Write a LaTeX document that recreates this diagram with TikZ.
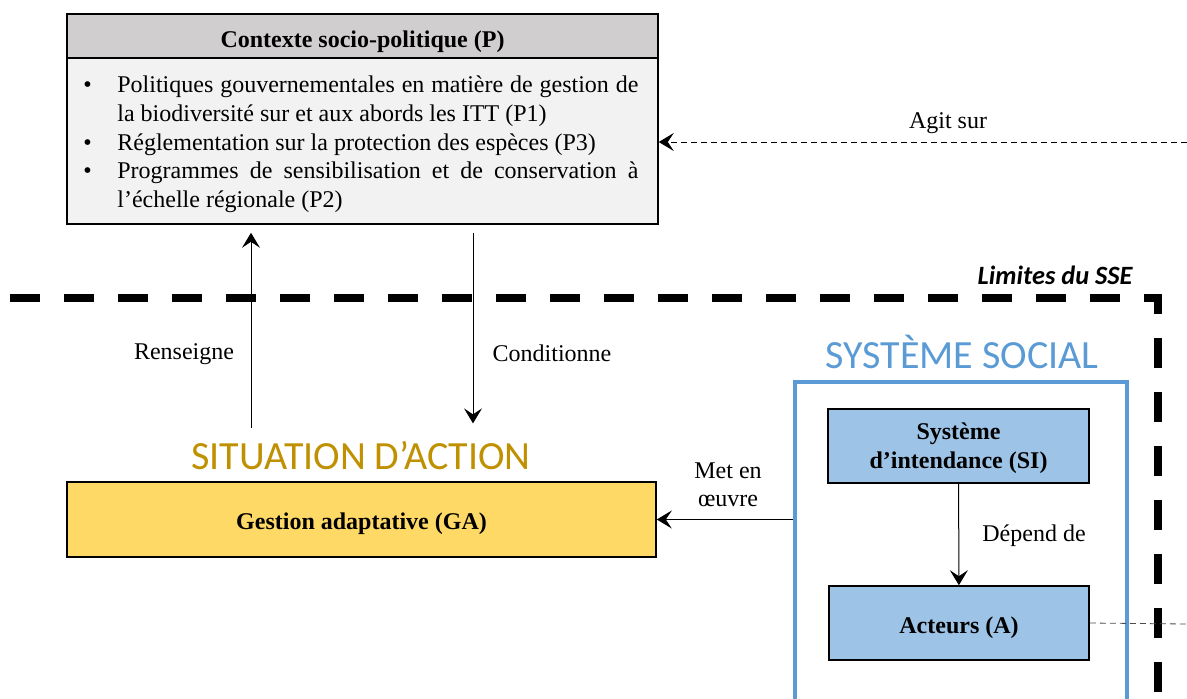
\documentclass[tikz,border=0pt]{standalone}
\usepackage{fontspec}
\setmainfont{Liberation Serif}
\newfontfamily\carlito{Carlito}
\usetikzlibrary{arrows.meta,calc,positioning}
\definecolor{hdrgray}{HTML}{D0CECE}
\definecolor{bodygray}{HTML}{F2F2F2}
\definecolor{gayellow}{HTML}{FFD966}
\definecolor{sagold}{HTML}{BF9000}
\definecolor{ssblue}{HTML}{5B9BD5}
\definecolor{sifill}{HTML}{9DC3E6}

\begin{document}
\begin{tikzpicture}[x=0.5pt,y=-0.5pt,
  box/.style={draw, line width=0.8pt, inner sep=0pt, align=center, text depth=0pt, font=\fontsize{12}{14.5}\selectfont\bfseries},
  oneline/.style={text height=10.4pt},
  link/.style={-{Stealth[length=7.5pt,width=9pt,inset=3pt]}, line width=0.5pt},
  faint/.style={link, densely dashed, line width=0.4pt},
  lbl/.style={font=\fontsize{12}{13.8}\selectfont, align=center, inner sep=0pt},
  ttl/.style={font=\carlito\fontsize{20}{24}\selectfont, inner sep=0pt}]
\useasboundingbox (0,0) rectangle (1187,698);

\node[box, oneline, text height=11pt, fill=hdrgray, minimum width=295.5pt, minimum height=22pt] (phead) at (362.5,36) {Contexte socio-politique (P)};
\node[box, fill=bodygray, minimum width=295.5pt, minimum height=83pt] (pbody) at (362.5,141) {};
\node[anchor=north west, inner sep=0pt, font=\fontsize{12}{14.4}\selectfont] (plist) at (83,72) {%
  \begin{tabular}{@{}p{17pt}@{}p{260.5pt}@{}}
  \textbullet & Politiques gouvernementales en matière de gestion de\linebreak la biodiversité sur et aux abords les ITT (P1)\\
  \textbullet & Réglementation sur la protection des espèces (P3)\\
  \textbullet & Programmes de sensibilisation et de conservation à\linebreak l’échelle régionale (P2)
  \end{tabular}};

\node[box, oneline, fill=gayellow, minimum width=294.5pt, minimum height=37.5pt] (ga) at (361.5,519.5) {Gestion adaptative (GA)};
\node[ttl, text=sagold] (satitle) at (361,456) {SITUATION D’ACTION};

\node[draw=ssblue, line width=2pt, minimum width=166pt, minimum height=170pt] (ssbox) at (961,552) {};
\node[ttl, text=ssblue] (sstitle) at (962,352) {SYSTÈME SOCIAL};
\node[box, fill=sifill, minimum width=130.5pt, minimum height=37pt] (si) at (958.5,446) {Système\\d’intendance (SI)};
\node[box, oneline, fill=sifill, minimum width=130pt, minimum height=37pt] (act) at (959,623) {Acteurs (A)};

\draw[line width=4pt, dash pattern=on 15pt off 12pt] (10,298) -- (1158,298) -- (1158,700);
\node[anchor=east, inner sep=0pt, font=\carlito\fontsize{13.2}{15}\selectfont\bfseries\itshape] (sse) at (1133,275) {Limites du SSE};

\coordinate (agit) at (1187,142);
\coordinate (actout) at (1187,624);
\coordinate (rx) at (251,0);
\coordinate (cx) at (473,0);

\draw[faint] (agit) -- (pbody.east |- agit);
\node[lbl] (agitlbl) at (948,123) {Agit sur};

\draw[link] ([yshift=6.5pt]satitle.north -| rx) -- ([yshift=-4pt]pbody.south -| rx);
\node[lbl] (renlbl) at (184,354) {Renseigne};
\draw[link] ([yshift=-4pt]pbody.south -| cx) -- ([yshift=9pt]satitle.north -| cx);
\node[lbl] (conlbl) at (552,353) {Conditionne};

\draw[link] (ssbox.west |- ga.east) -- (ga.east);
\node[lbl] (metlbl) at (728,485) {Met en\\œuvre};

\draw[link] (si) -- (act);
\node[lbl] (deplbl) at (1034,536) {Dépend de};

\draw[densely dashed, line width=0.4pt, gray!60!black] (act.east) -- (actout);
\end{tikzpicture}
\end{document}
